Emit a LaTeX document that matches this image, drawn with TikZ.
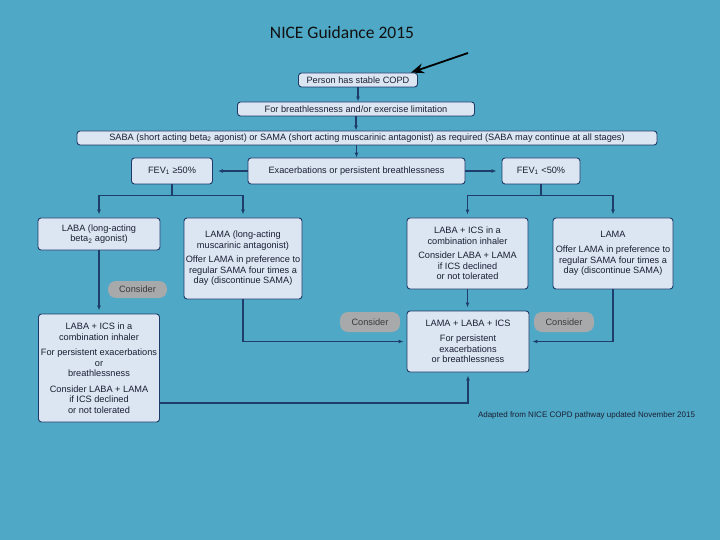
\documentclass[tikz,border=0pt]{standalone}
\usepackage{fontspec}
\setmainfont{Liberation Sans}
\newfontfamily\titlefont{Carlito}
\usetikzlibrary{arrows.meta}
\definecolor{bg}{HTML}{4EA8C6}
\definecolor{boxfill}{HTML}{DCE6F2}
\definecolor{boxline}{HTML}{1F3A68}
\definecolor{linecol}{HTML}{1F3D6B}
\definecolor{boxtext}{HTML}{1A1F33}
\definecolor{pillfill}{HTML}{A7A9AB}
\definecolor{pilltext}{HTML}{3A3A3A}
\definecolor{titlecol}{HTML}{111111}
\begin{document}
\begin{tikzpicture}[x=1pt,y=-1pt,
  box/.style={draw=boxline, fill=boxfill, line width=0.9pt, rounded corners=3pt,
    align=center, font=\fontsize{9.2}{10.5}\selectfont, text=boxtext, inner sep=1pt},
  pill/.style={fill=pillfill, rounded corners=8pt, align=center,
    font=\fontsize{9.2}{10.5}\selectfont, text=pilltext, inner sep=1pt},
  line/.style={draw=linecol, line width=1.1pt},
  conn/.style={line, -{Latex[length=5pt,width=4pt]}},
]
\fill[bg] (0,0) rectangle (720,540);
\useasboundingbox (0,0) rectangle (720,540);

\node[font=\titlefont\fontsize{17.5}{19}\selectfont, text=titlecol] (title) at (342,32) {NICE Guidance 2015};

\node[box, minimum width=119pt, minimum height=14pt] (copd) at (358,80) {Person has stable COPD};
\node[box, minimum width=237pt, minimum height=14pt] (breath) at (356,109) {For breathlessness and/or exercise limitation};
\node[box, minimum width=580pt, minimum height=14pt] (saba) at (367,138) {SABA (short acting beta\textsubscript{2} agonist) or SAMA (short acting muscarinic antagonist) as required (SABA may continue at all stages)};

\node[box, minimum width=81pt, minimum height=26pt] (fevL) at (172,171) {FEV\textsubscript{1} ≥50\%};
\node[box, minimum width=217pt, minimum height=26pt] (exac) at (356.5,171) {Exacerbations or persistent breathlessness};
\node[box, minimum width=78pt, minimum height=26pt] (fevR) at (541,171) {FEV\textsubscript{1} <50\%};

\node[box, minimum width=122pt, minimum height=32pt] (laba) at (99,234) {LABA (long-acting\\beta\textsubscript{2} agonist)};
\node[box, minimum width=118pt, minimum height=81pt] (lamaL) at (243,258.5) {LAMA (long-acting\\muscarinic antagonist)\\[4pt]Offer LAMA in preference to\\regular SAMA four times a\\day (discontinue SAMA)};
\node[box, minimum width=121pt, minimum height=71pt] (labaics) at (467.5,253.5) {LABA + ICS in a\\combination inhaler\\[4pt]Consider LABA + LAMA\\if ICS declined\\or not tolerated};
\node[box, minimum width=120pt, minimum height=71pt] (lamaR) at (613,253.5) {LAMA\\[5pt]Offer LAMA in preference to\\regular SAMA four times a\\day (discontinue SAMA)};

\node[pill, minimum width=59pt, minimum height=17pt] (considerL) at (137.5,289.5) {Consider};

\node[box, minimum width=121pt, minimum height=108pt] (labaics2) at (99,368) {LABA + ICS in a\\combination inhaler\\[5pt]For persistent exacerbations\\or\\breathlessness\\[5pt]Consider LABA + LAMA\\if ICS declined\\or not tolerated};
\node[box, minimum width=122pt, minimum height=61pt] (triple) at (468,341.5) {LAMA + LABA + ICS\\[5pt]For persistent\\exacerbations\\or breathlessness};

\node[pill, minimum width=60pt, minimum height=20pt] (considerM) at (370,322) {Consider};
\node[pill, minimum width=60pt, minimum height=20pt] (considerR) at (564,322) {Consider};

\node[font=\fontsize{8}{9}\selectfont, text=boxtext] (src) at (586.5,415) {Adapted from NICE COPD pathway updated November 2015};

% pointer arrow
\coordinate (ptr) at (468,53);
\draw[-{Stealth[length=13pt,width=10pt]}, line width=1.8pt, black] (ptr) -- ([xshift=-7pt]copd.north east);

% connectors
\draw[conn] (copd.south) -- (copd.south |- breath.north);
\draw[conn] (breath.south) -- (breath.south |- saba.north);
\draw[conn] (saba.south -| exac.north) -- (exac.north);
\draw[conn, shorten >=5pt] (exac) -- (fevL);
\draw[conn, shorten >=5pt] (exac) -- (fevR);

\draw[conn, shorten >=3pt] (fevL.south) |- ([yshift=-11pt]fevL.south -| laba.north) -- (laba.north);
\draw[conn, shorten >=3pt] (fevL.south) |- ([yshift=-11pt]fevL.south -| lamaL.north) -- (lamaL.north);
\draw[conn, shorten >=3pt] (fevR.south) |- ([yshift=-11pt]fevR.south -| labaics.north) -- (labaics.north);
\draw[conn, shorten >=3pt] (fevR.south) |- ([yshift=-11pt]fevR.south -| lamaR.north) -- (lamaR.north);

\draw[conn, shorten >=3pt] (laba.south) -- (laba.south |- labaics2.north);
\draw[conn, shorten >=3pt] (lamaL.south) |- (triple.west);
\draw[conn, shorten >=3pt] (lamaR.south) |- (triple.east);
\draw[conn, shorten >=3pt] (labaics.south) -- (labaics.south |- triple.north);
\draw[conn, shorten >=3pt] ([yshift=-35pt]labaics2.east) -| (triple.south);
\end{tikzpicture}
\end{document}
